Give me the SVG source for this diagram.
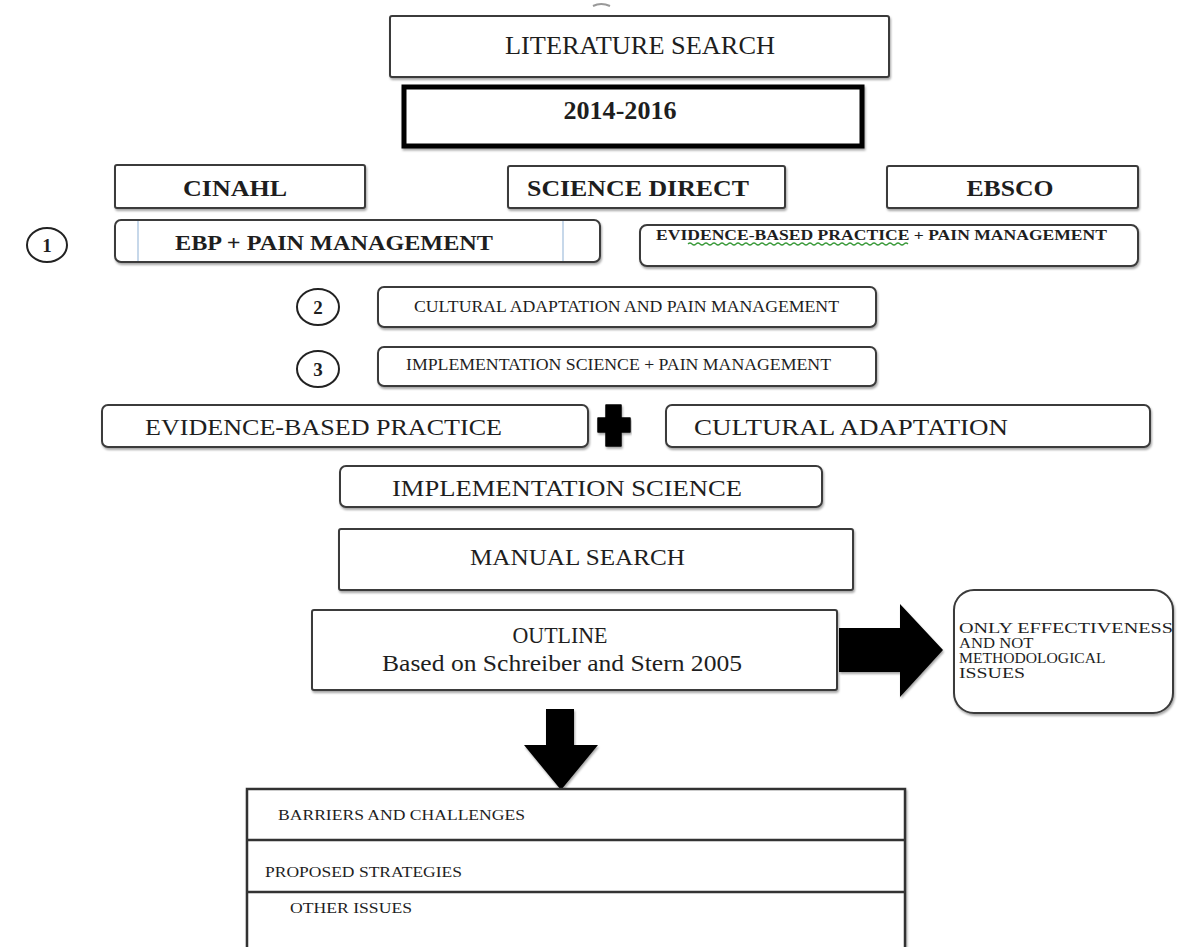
<svg xmlns="http://www.w3.org/2000/svg" width="1177" height="947" viewBox="0 0 1177 947">
<defs>
<filter id="sh" x="-5%" y="-20%" width="110%" height="150%">
<feDropShadow dx="1" dy="2" stdDeviation="1.2" flood-color="#000" flood-opacity="0.35"/>
</filter>
</defs>
<style>
.box{fill:#fff;stroke:#3a3a3a;stroke-width:2;filter:url(#sh)}
.t{font-family:"Liberation Serif","Times New Roman",serif;fill:#1e1e1e}
.b{font-weight:bold}
.c{text-anchor:middle}
.circ{fill:#fff;stroke:#222;stroke-width:2}
.arrow{fill:#000;filter:url(#sh)}
</style>
<rect width="1177" height="947" fill="#fff"/>
<path d="M593 6 Q601 2 610 6" fill="none" stroke="#999" stroke-width="2"/>

<g id="literature-search">
<rect class="box" x="390" y="16" width="499" height="61" rx="2"/>
<text class="t c" x="640" y="54" font-size="26" textLength="270" lengthAdjust="spacingAndGlyphs">LITERATURE SEARCH</text>
</g>
<g id="years">
<rect x="404" y="87" width="458" height="59" fill="#fff" stroke="#000" stroke-width="5" filter="url(#sh)"/>
<text class="t b c" x="620" y="119" font-size="25" textLength="113" lengthAdjust="spacingAndGlyphs">2014-2016</text>
</g>
<g id="cinahl">
<rect class="box" x="115" y="165" width="250" height="43" rx="2"/>
<text class="t b c" x="235" y="196" font-size="24" textLength="104" lengthAdjust="spacingAndGlyphs">CINAHL</text>
</g>
<g id="science-direct">
<rect class="box" x="508" y="166" width="277" height="42" rx="2"/>
<text class="t b c" x="638" y="196" font-size="24" textLength="222" lengthAdjust="spacingAndGlyphs">SCIENCE DIRECT</text>
</g>
<g id="ebsco">
<rect class="box" x="887" y="166" width="251" height="42" rx="2"/>
<text class="t b c" x="1010" y="196" font-size="24" textLength="87" lengthAdjust="spacingAndGlyphs">EBSCO</text>
</g>

<g id="circle-1">
<ellipse class="circ" cx="47" cy="245" rx="20" ry="17"/>
<text class="t b c" x="47" y="252" font-size="19">1</text>
</g>
<g id="ebp-pain">
<rect class="box" x="115" y="220" width="485" height="42" rx="6"/>
<line x1="138" y1="221" x2="138" y2="261" stroke="#b5cbe3" stroke-width="1.5"/>
<line x1="563" y1="221" x2="563" y2="261" stroke="#b5cbe3" stroke-width="1.5"/>
<text class="t b" x="175" y="250" font-size="22" textLength="318" lengthAdjust="spacingAndGlyphs">EBP + PAIN MANAGEMENT</text>
</g>
<g id="evidence-pain">
<rect class="box" x="640" y="225" width="498" height="41" rx="7"/>
<text class="t b" x="656" y="240" font-size="15" textLength="451" lengthAdjust="spacingAndGlyphs">EVIDENCE-BASED  PRACTICE + PAIN MANAGEMENT</text>
<path d="M688 244 q2 -2 4 0 t4 0 t4 0 t4 0 t4 0 t4 0 t4 0 t4 0 t4 0 t4 0 t4 0 t4 0 t4 0 t4 0 t4 0 t4 0 t4 0 t4 0 t4 0 t4 0 t4 0 t4 0 t4 0 t4 0 t4 0 t4 0 t4 0 t4 0 t4 0 t4 0 t4 0 t4 0 t4 0 t4 0 t4 0 t4 0 t4 0 t4 0 t4 0 t4 0 t4 0 t4 0 t4 0 t4 0 t4 0 t4 0 t4 0 t4 0 t4 0 t4 0 t4 0 t4 0 t4 0 t4 0 t4 0" fill="none" stroke="#3a9a3a" stroke-width="1.2"/>
</g>

<g id="circle-2">
<ellipse class="circ" cx="318" cy="307" rx="21" ry="18"/>
<text class="t b c" x="318" y="314" font-size="19">2</text>
</g>
<g id="cultural-pain">
<rect class="box" x="378" y="287" width="498" height="40" rx="6"/>
<text class="t" x="414" y="312" font-size="16" textLength="425" lengthAdjust="spacingAndGlyphs">CULTURAL ADAPTATION AND PAIN MANAGEMENT</text>
</g>
<g id="circle-3">
<ellipse class="circ" cx="318" cy="369" rx="21" ry="18"/>
<text class="t b c" x="318" y="376" font-size="19">3</text>
</g>
<g id="implementation-pain">
<rect class="box" x="378" y="347" width="498" height="39" rx="6"/>
<text class="t" x="406" y="370" font-size="16" textLength="425" lengthAdjust="spacingAndGlyphs">IMPLEMENTATION SCIENCE + PAIN MANAGEMENT</text>
</g>

<g id="evidence-based-practice">
<rect class="box" x="102" y="405" width="486" height="42" rx="6"/>
<text class="t" x="145" y="435" font-size="24" textLength="357" lengthAdjust="spacingAndGlyphs">EVIDENCE-BASED PRACTICE</text>
</g>
<g id="plus">
<path d="M606 405 h15 v13 h9 v14 h-9 v14 h-15 v-14 h-8 v-14 h8 z" fill="#000" stroke="#000" stroke-width="1.5" stroke-linejoin="round" filter="url(#sh)"/>
</g>
<g id="cultural-adaptation">
<rect class="box" x="666" y="405" width="484" height="42" rx="6"/>
<text class="t" x="694" y="435" font-size="24" textLength="314" lengthAdjust="spacingAndGlyphs">CULTURAL ADAPTATION</text>
</g>
<g id="implementation-science">
<rect class="box" x="340" y="466" width="482" height="41" rx="6"/>
<text class="t" x="392" y="496" font-size="24" textLength="350" lengthAdjust="spacingAndGlyphs">IMPLEMENTATION SCIENCE</text>
</g>
<g id="manual-search">
<rect class="box" x="339" y="529" width="514" height="61" rx="2"/>
<text class="t" x="470" y="565" font-size="24" textLength="215" lengthAdjust="spacingAndGlyphs">MANUAL SEARCH</text>
</g>
<g id="outline">
<rect class="box" x="312" y="610" width="525" height="80" rx="2"/>
<text class="t c" x="560" y="643" font-size="24" textLength="95" lengthAdjust="spacingAndGlyphs">OUTLINE</text>
<text class="t c" x="562" y="671" font-size="24" textLength="360" lengthAdjust="spacingAndGlyphs">Based on Schreiber and Stern 2005</text>
</g>
<g id="methodological">
<rect class="box" x="954" y="590" width="219" height="123" rx="20"/>
<text class="t" font-size="15">
<tspan x="959" y="633" textLength="214" lengthAdjust="spacingAndGlyphs">ONLY EFFECTIVENESS</tspan>
<tspan x="959" y="648" textLength="74" lengthAdjust="spacingAndGlyphs">AND NOT</tspan>
<tspan x="959" y="663" textLength="146" lengthAdjust="spacingAndGlyphs">METHODOLOGICAL</tspan>
<tspan x="959" y="678" textLength="66" lengthAdjust="spacingAndGlyphs">ISSUES</tspan>
</text>
</g>

<g id="connectors">
<path class="arrow" d="M839 628 H900 V604 L943 650 L900 697 V672 H839 Z"/>
<path class="arrow" d="M546 709 H574 V745 H598 L561 790 L524 745 H546 Z"/>
</g>

<g id="result-table">
<rect x="247" y="789" width="658" height="175" fill="#fff" stroke="#333" stroke-width="2.5" filter="url(#sh)"/>
<line x1="247" y1="840" x2="905" y2="840" stroke="#333" stroke-width="2.5"/>
<line x1="247" y1="892" x2="905" y2="892" stroke="#333" stroke-width="2.5"/>
<text class="t" x="278" y="820" font-size="15" textLength="247" lengthAdjust="spacingAndGlyphs">BARRIERS AND CHALLENGES</text>
<text class="t" x="265" y="877" font-size="15" textLength="197" lengthAdjust="spacingAndGlyphs">PROPOSED STRATEGIES</text>
<text class="t" x="290" y="913" font-size="15" textLength="122" lengthAdjust="spacingAndGlyphs">OTHER ISSUES</text>
</g>
</svg>
